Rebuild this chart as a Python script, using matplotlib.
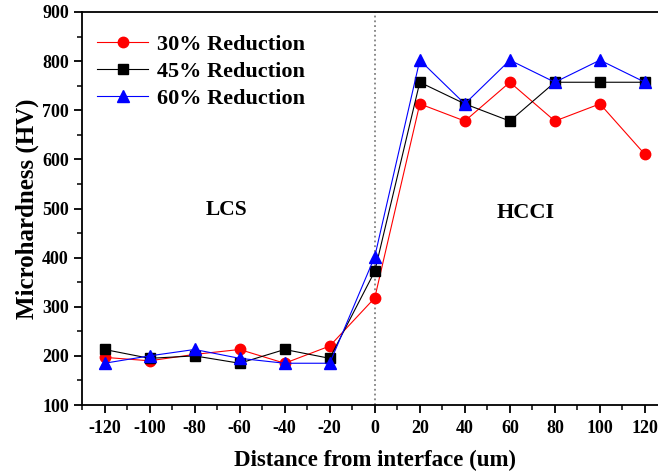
import matplotlib.pyplot as plt
from matplotlib.ticker import MultipleLocator

plt.rcParams['font.family'] = ['Liberation Serif', 'DejaVu Serif']
plt.rcParams['font.weight'] = 'bold'
plt.rcParams['axes.unicode_minus'] = False

distance = [-120, -100, -80, -60, -40, -20, 0, 20, 40, 60, 80, 100, 120]
red_30 = [197, 190, 203, 213, 185, 220, 318, 713, 678, 757, 678, 713, 610]
black_45 = [213, 195, 200, 185, 213, 195, 372, 757, 713, 678, 757, 757, 757]
blue_60 = [185, 200, 213, 195, 185, 185, 402, 802, 713, 802, 757, 802, 757]

fig = plt.figure(figsize=(6.58, 4.75), dpi=100)
ax = fig.add_axes([82 / 658, 70 / 475, 585.5 / 658, 393 / 475])

# interface line
ax.axvline(0, color='gray', linestyle=':', linewidth=1.3, zorder=1)

ax.plot(distance, red_30, color='red', marker='o', markersize=7.5, linewidth=0.8,
        label='30% Reduction', zorder=3)
ax.plot(distance, black_45, color='black', marker='s', markersize=6.5, linewidth=0.8,
        label='45% Reduction', zorder=3)
ax.plot(distance, blue_60, color='blue', marker='^', markersize=8, linewidth=0.8,
        label='60% Reduction', zorder=3)

ax.set_xlim(-130, 130)
ax.set_ylim(100, 900)
ax.xaxis.set_major_locator(MultipleLocator(20))
ax.xaxis.set_minor_locator(MultipleLocator(10))
ax.yaxis.set_major_locator(MultipleLocator(100))
ax.yaxis.set_minor_locator(MultipleLocator(50))
ax.tick_params(which='major', direction='out', length=6, width=1.3, labelsize=13)
ax.tick_params(which='minor', direction='out', length=3.5, width=1.1)
ax.tick_params(axis='x', which='major', pad=5)
for s in ax.spines.values():
    s.set_linewidth(1.3)
ax.spines['right'].set_visible(False)

ax.set_xlabel('Distance from interface (um)', fontsize=16.5, fontweight='bold', labelpad=9)
ax.set_ylabel('Microhardness (HV)', fontsize=18, fontweight='bold', labelpad=2)

ax.text(-66, 497, 'LCS', fontsize=15.5, fontweight='bold', ha='center', va='center')
ax.text(67, 490, 'HCCI', fontsize=16, fontweight='bold', ha='center', va='center')

ax.legend(loc='upper left', bbox_to_anchor=(-0.012, 1.0), frameon=False,
          handlelength=2.3, labelspacing=0.3, borderpad=0.5,
          handletextpad=0.4, prop={'weight': 'bold', 'size': 16})

fig.savefig('out.png', dpi=100)
